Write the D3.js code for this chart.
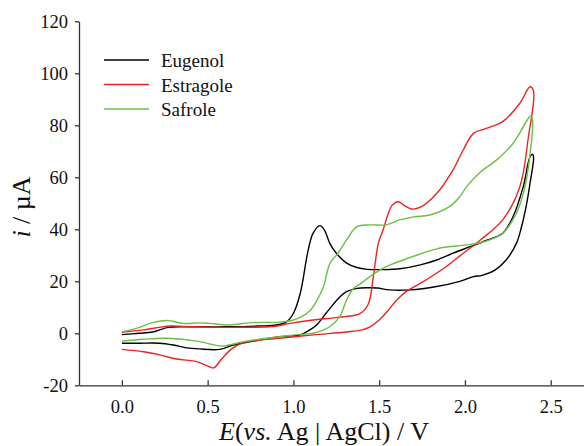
<!DOCTYPE html>
<html>
<head>
<meta charset="utf-8">
<script src="https://cdn.jsdelivr.net/npm/d3@7"></script>
<style>
  html, body { margin: 0; padding: 0; background: #fff; }
  svg { display: block; }
  .axis text { font-family: "Liberation Serif", "Times New Roman", serif; font-size: 18.5px; fill: #111; }
  .axis path, .axis line { stroke: #333; stroke-width: 1.3px; }
  .title { font-family: "Liberation Serif", "Times New Roman", serif; font-size: 26px; fill: #111; }
  .legend text { font-family: "Liberation Serif", "Times New Roman", serif; font-size: 19px; fill: #111; }
</style>
</head>
<body>
<div id="chart"></div>
<script>
// cyclic voltammograms, [E (V), i (uA)], forward scan then reverse
const eugenol = [
  [0.00,-0.5],[0.10,0.0],[0.18,0.5],[0.27,2.3],[0.40,2.5],[0.60,2.5],[0.80,2.8],[0.90,3.2],
  [0.96,4.4],[1.00,7.7],[1.04,15.4],[1.086,32],[1.115,38.5],[1.155,41.4],[1.18,39.8],[1.213,34.5],
  [1.25,30.8],[1.31,27],[1.37,25.3],[1.43,24.6],[1.52,24.5],[1.62,24.8],[1.74,26.3],[1.835,28.2],
  [1.93,30.8],[2.03,33.3],[2.12,35.6],[2.22,38.5],[2.28,44.8],[2.34,56.4],[2.38,68],[2.395,68.8],
  [2.40,67.3],[2.38,58],[2.36,50],[2.33,41],[2.30,34.6],[2.24,28.2],[2.175,24.3],[2.10,22.3],
  [2.05,21.8],[1.97,20],[1.835,18],[1.68,16.7],[1.56,16.7],[1.49,17.4],[1.446,17.5],[1.37,17.3],
  [1.31,16],[1.27,14],[1.19,7.7],[1.135,3.2],[1.10,1.5],[1.04,-0.6],[0.92,-1.3],[0.80,-2.6],
  [0.65,-4.5],[0.57,-6.2],[0.45,-6],[0.38,-5.6],[0.30,-4.5],[0.22,-3.8],[0.10,-3.8],[0.00,-3.8]
];
const estragole = [
  [0.00,0.4],[0.125,1.3],[0.28,2.8],[0.40,2.5],[0.55,2.3],[0.70,2.3],[0.88,2.6],[0.98,3.8],
  [1.115,5.1],[1.27,6.2],[1.39,7.7],[1.436,11.2],[1.466,21.8],[1.495,34.6],[1.524,40],[1.55,45.5],
  [1.575,49.2],[1.61,50.6],[1.65,49],[1.69,47.8],[1.74,48.5],[1.835,53.8],[1.93,62.8],[1.99,70.5],
  [2.05,76.9],[2.125,78.8],[2.22,81.4],[2.32,88.5],[2.38,94.8],
  [2.40,92.9],[2.37,75.6],[2.32,56.4],[2.22,43.6],[2.09,35.9],[1.99,30.8],[1.89,25.6],[1.74,19.2],
  [1.66,16.2],[1.60,12.6],[1.55,8.6],[1.50,5.1],[1.45,2.6],[1.40,1.3],[1.31,0.5],[1.115,-0.6],
  [0.92,-1.9],[0.80,-2.6],[0.71,-3.6],[0.64,-6],[0.58,-10],[0.535,-13.3],[0.50,-12.6],[0.435,-10.9],
  [0.32,-9.9],[0.22,-8.3],[0.125,-7.1],[0.00,-6.2]
];
const safrole = [
  [0.00,0.6],[0.085,1.9],[0.18,4.1],[0.26,4.9],[0.36,3.8],[0.45,4.0],[0.51,3.8],[0.63,3.2],
  [0.75,4.1],[0.92,4.3],[1.00,5.1],[1.05,6.5],[1.10,9],[1.14,13],[1.175,17.9],[1.213,26.9],
  [1.26,30.8],[1.31,35.9],[1.37,41],[1.446,41.7],[1.54,41.7],[1.62,43.6],[1.70,44.8],[1.795,45.5],
  [1.91,48.7],[1.97,52.5],[2.01,56.4],[2.09,62],[2.185,66.7],[2.28,73],[2.37,82.7],[2.385,83.7],
  [2.395,81.4],[2.38,69.2],[2.35,56.4],[2.30,46.2],[2.22,38.5],[2.11,35.2],[2.01,34],[1.87,33],
  [1.78,31.4],[1.64,28.2],[1.54,25.6],[1.446,21.8],[1.39,19],[1.35,17.3],[1.31,12.8],[1.27,6.4],
  [1.213,2.6],[1.115,0],[1.04,-0.4],[0.92,-1.3],[0.80,-2.3],[0.71,-3.2],[0.59,-4.9],[0.52,-4.2],
  [0.455,-3.2],[0.26,-1.9],[0.125,-2.3],[0.00,-3.0]
];
const seriesNames = ['Eugenol', 'Estragole', 'Safrole'];
const seriesColors = ['#000000', '#ee2222', '#6abf45'];
const xTicks = [0.0, 0.5, 1.0, 1.5, 2.0, 2.5];
const yTicks = [-20, 0, 20, 40, 60, 80, 100, 120];

const width = 584, height = 446;
const svg = d3.select('#chart').append('svg')
  .attr('width', width)
  .attr('height', height);

const x = d3.scaleLinear().domain([-0.25, 2.694]).range([79, 584]);
const y = d3.scaleLinear().domain([-20, 120]).range([385.3, 21.3]);

// axes
svg.append('g')
  .attr('class', 'axis')
  .attr('transform', 'translate(0,' + y(-20) + ')')
  .call(d3.axisBottom(x).tickValues(xTicks).tickFormat(d3.format('.1f'))
    .tickSizeInner(-5).tickSizeOuter(0).tickPadding(15));

svg.append('g')
  .attr('class', 'axis')
  .attr('transform', 'translate(' + x(-0.25) + ',0)')
  .call(d3.axisLeft(y).tickValues(yTicks).tickFormat(function(d) { return String(d); })
    .tickSizeInner(4).tickSizeOuter(0).tickPadding(7));

// curves
const line = d3.line()
  .x(function(d) { return x(d[0]); })
  .y(function(d) { return y(d[1]); })
  .curve(d3.curveCatmullRom.alpha(0.5));

const data = [eugenol, estragole, safrole];
svg.append('g').selectAll('path')
  .data(data)
  .enter().append('path')
    .attr('d', line)
    .attr('fill', 'none')
    .attr('stroke', function(d, i) { return seriesColors[i]; })
    .attr('stroke-width', 1.4)
    .attr('stroke-linejoin', 'round');

// legend
const legend = svg.append('g').attr('class', 'legend');
seriesNames.forEach(function(name, i) {
  const ly = 60 + i * 24.5;
  legend.append('line')
    .attr('x1', 104).attr('x2', 149)
    .attr('y1', ly).attr('y2', ly)
    .attr('stroke', seriesColors[i])
    .attr('stroke-width', 1.4);
  legend.append('text')
    .attr('x', 161).attr('y', ly + 7)
    .text(name);
});

// axis titles
const xt = svg.append('text')
  .attr('class', 'title')
  .attr('x', 324).attr('y', 440)
  .attr('text-anchor', 'middle');
xt.append('tspan').attr('font-style', 'italic').text('E');
xt.append('tspan').text('(');
xt.append('tspan').attr('font-style', 'italic').text('vs.');
xt.append('tspan').text(' Ag | AgCl) / V');

const yt = svg.append('text')
  .attr('class', 'title')
  .attr('transform', 'translate(30,207) rotate(-90)')
  .attr('text-anchor', 'middle');
yt.append('tspan').attr('font-style', 'italic').text('i');
yt.append('tspan').text(' / µA');
</script>
</body>
</html>
